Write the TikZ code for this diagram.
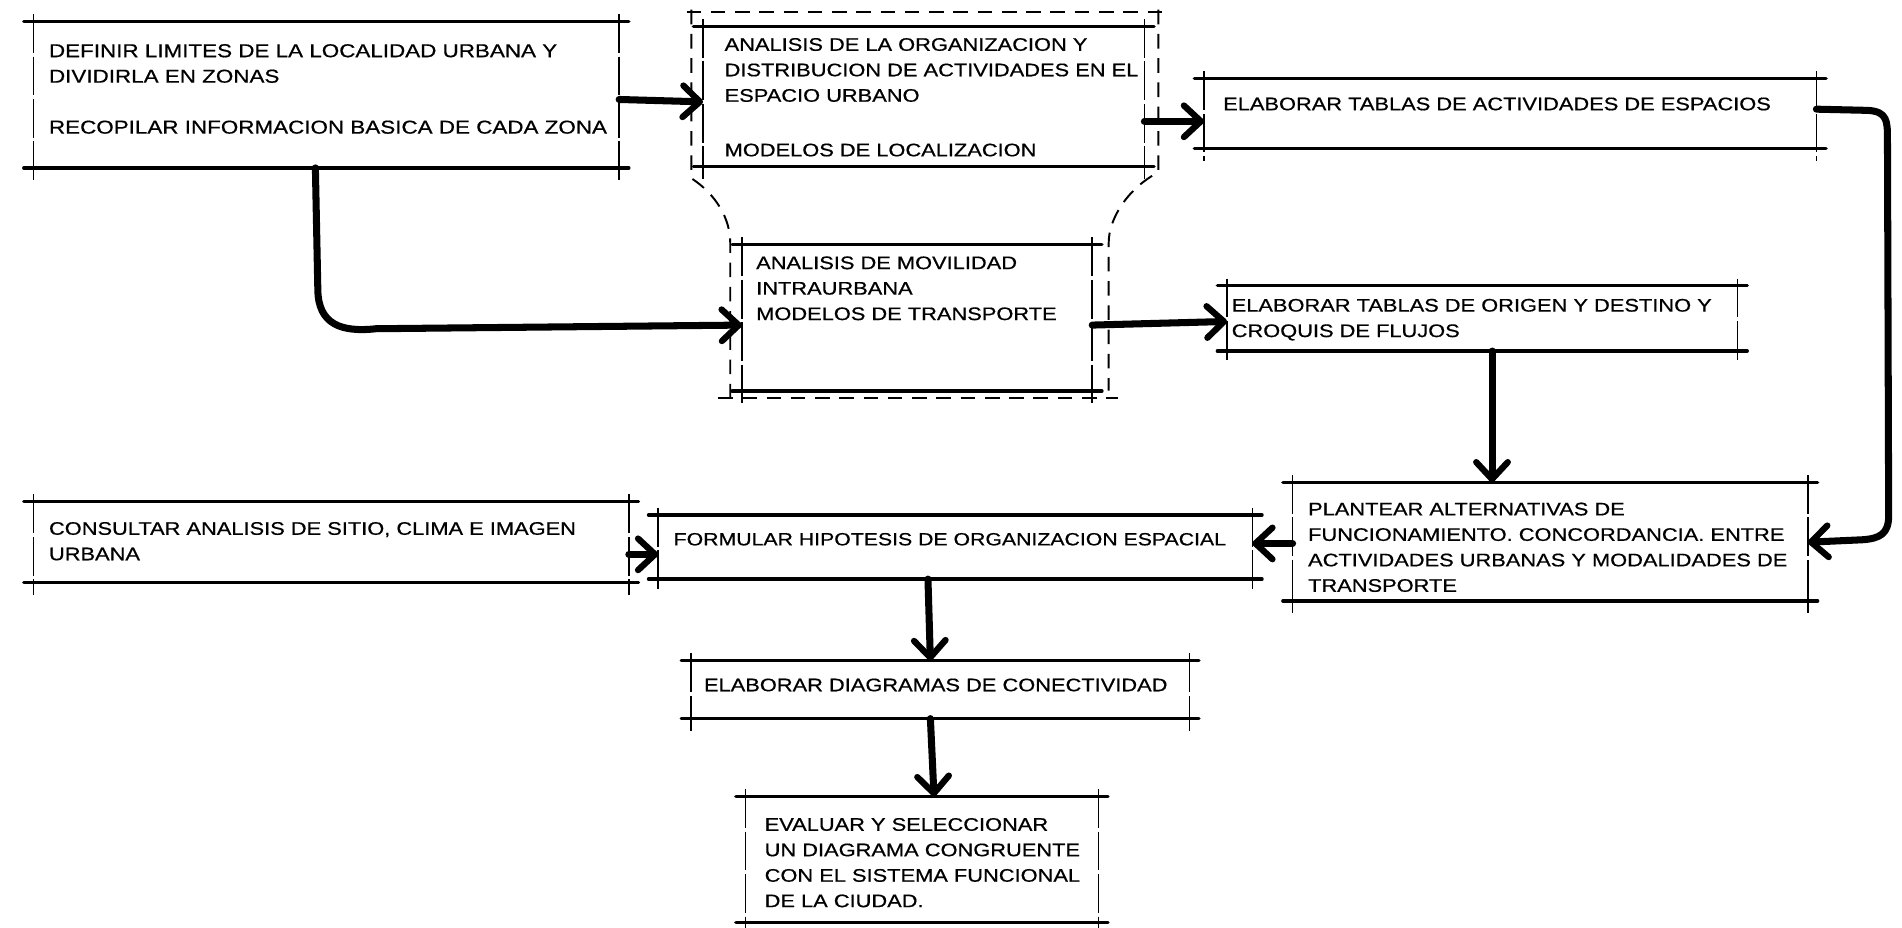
\documentclass[tikz,border=0pt]{standalone}
\usepackage{fontspec}
\setmainfont{Liberation Sans}[FakeStretch=1.2,FakeBold=0.6]
\usetikzlibrary{arrows.meta,fit}
\tikzset{
  area/.style={inner sep=0pt, draw=none},
  hl/.style={line width=1.4pt, line cap=round},
  vl/.style={line width=0.6pt, dash pattern=on 16pt off 1.5pt},
  txt/.style={anchor=north west, inner sep=0pt, align=left, font=\fontsize{7.5}{10.5}\selectfont},
  flow/.style={line width=2.9pt, line cap=round, line join=round,
    -{Straight Barb[length=7pt,width=13pt,line width=2.6pt,line cap=round,line join=round]}},
  outline/.style={line width=0.8pt, dash pattern=on 6pt off 4pt},
}
\newcommand\skbox[1]{%
  \draw[hl] ([xshift=-4pt]#1.north west) -- ([xshift=4pt]#1.north east);
  \draw[hl] ([xshift=-4pt]#1.south west) -- ([xshift=4pt]#1.south east);
  \draw[vl] ([yshift=3pt]#1.north west) -- ([yshift=-5pt]#1.south west);
  \draw[vl] ([yshift=3pt]#1.north east) -- ([yshift=-5pt]#1.south east);
}
\begin{document}
\begin{tikzpicture}[x=0.5pt,y=-0.5pt]
\useasboundingbox (0,0) rectangle (1568,765);
% box areas
\node[area, fit={(28,18) (510,138)}] (b1) {};
\node[area, fit={(580,22) (943,137)}] (b2) {};
\node[area, fit={(612,202) (900,322)}] (b3) {};
\node[area, fit={(993,65) (1497,122)}] (b4) {};
\node[area, fit={(1012,236) (1432,289)}] (b5) {};
\node[area, fit={(1066,398) (1490,495)}] (b6) {};
\node[area, fit={(28,414) (518,480)}] (b7) {};
\node[area, fit={(543,425) (1032,477)}] (b8) {};
\node[area, fit={(570,545) (980,592)}] (b9) {};
\node[area, fit={(615,657) (905,760)}] (b10) {};
\foreach \b in {b1,b2,b3,b4,b5,b6,b7,b8,b9,b10}{\skbox{\b}}
% grouping outline
\draw[outline] (566,10) -- (958,10);
\draw[outline] (570,8) -- (570,147) .. controls (590,160) and (602,180) .. (602,200) -- (602,330);
\draw[outline] (955,8) -- (955,142) .. controls (930,155) and (914,180) .. (914,200) -- (914,322);
\draw[outline] (592,328) -- (922,328);
% texts
\node[txt, font=\fontsize{7.7}{10.5}\selectfont] (t1) at (40,36) {DEFINIR LIMITES DE LA LOCALIDAD URBANA Y\\DIVIDIRLA EN ZONAS\\[10.5pt]RECOPILAR INFORMACION BASICA DE CADA ZONA};
\node[txt] (t2) at (597,31) {ANALISIS DE LA ORGANIZACION Y\\DISTRIBUCION DE ACTIVIDADES EN EL\\ESPACIO URBANO\\[12pt]MODELOS DE LOCALIZACION};
\node[txt] (t3) at (623,211) {ANALISIS DE MOVILIDAD\\INTRAURBANA\\MODELOS DE TRANSPORTE};
\node[txt] (t4) at (1008,80) {ELABORAR TABLAS DE ACTIVIDADES DE ESPACIOS};
\node[txt] (t5) at (1015,246) {ELABORAR TABLAS DE ORIGEN Y DESTINO Y\\CROQUIS DE FLUJOS};
\node[txt] (t6) at (1078,414) {PLANTEAR ALTERNATIVAS DE\\FUNCIONAMIENTO. CONCORDANCIA. ENTRE\\ACTIVIDADES URBANAS Y MODALIDADES DE\\TRANSPORTE};
\node[txt] (t7) at (40,430) {CONSULTAR ANALISIS DE SITIO, CLIMA E IMAGEN\\URBANA};
\node[txt, font=\fontsize{7.3}{10.5}\selectfont] (t8) at (555,439) {FORMULAR HIPOTESIS DE ORGANIZACION ESPACIAL};
\node[txt] (t9) at (580,559) {ELABORAR DIAGRAMAS DE CONECTIVIDAD};
\node[txt] (t10) at (630,674) {EVALUAR Y SELECCIONAR\\UN DIAGRAMA CONGRUENTE\\CON EL SISTEMA FUNCIONAL\\DE LA CIUDAD.};
% connectors
\draw[flow] ([yshift=-2pt]b1.east) -- ([yshift=-2.25pt]b2.west);
\draw[flow] ([xshift=-4.5pt]b1.south) -- (262,238) .. controls (262,268) and (282,274) .. (310,271) -- ([yshift=-3pt]b3.west);
\draw[flow] ([yshift=-10.25pt]b2.east) -- ([yshift=-3.25pt]b4.west);
\draw[flow] ([yshift=-3pt]b3.east) -- ([yshift=-1.25pt]b5.west);
\draw[flow] ([yshift=1.75pt]b4.east) -- (1540,91) .. controls (1556,92) and (1556,100) .. (1556,115) -- (1557,425) .. controls (1557,440) and (1550,444) .. (1535,445) -- ([yshift=-0.25pt]b6.east);
\draw[flow] ([xshift=4pt]b5.south) -- ([xshift=4pt]b5.south |- b6.north);
\draw[flow] ([yshift=-0.75pt]b6.west) -- ([yshift=1.5pt]b8.east);
\draw[flow] ([yshift=-5pt]b7.east) -- ([yshift=-3pt]b8.west);
\draw[flow] ([xshift=-11.25pt]b8.south) -- ([xshift=-4pt]b9.north);
\draw[flow] ([xshift=-4pt]b9.south) -- ([xshift=5pt]b10.north);
\end{tikzpicture}
\end{document}
